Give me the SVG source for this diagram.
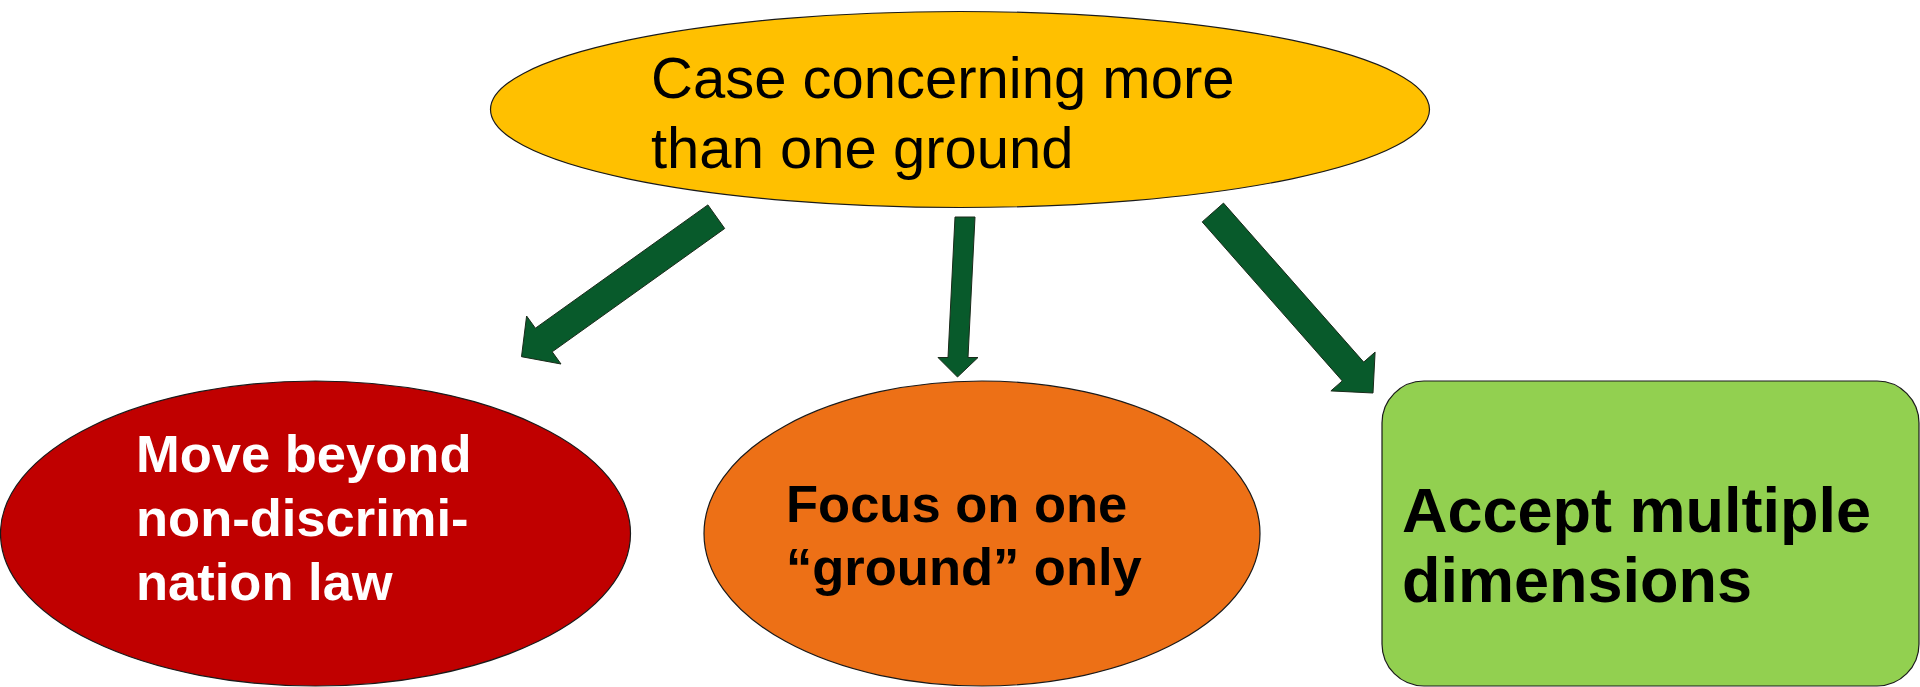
<svg xmlns="http://www.w3.org/2000/svg" width="1920" height="687" viewBox="0 0 1920 687">
<style>
.shape{stroke:#1a1a1a;stroke-width:1.2}
.arrow{fill:#085A2B;stroke:#1a2a1a;stroke-width:1}
.t{font-family:"Liberation Sans",Arial,sans-serif}
.b{font-weight:bold}
</style>
<rect width="1920" height="687" fill="#ffffff"/>
<g id="connectors">
<polygon class="arrow" points="724.7,228.5 552.2,351.8 561.0,364.0 521.5,356.7 526.6,316.0 535.4,328.2 707.9,204.9"/>
<polygon class="arrow" points="975,217 968,357.5 978,357.5 957.5,377 938,357.5 948,357.5 955,217"/>
<polygon class="arrow" points="1223.5,203.1 1363.7,362.1 1375.1,352.1 1373,393 1330.9,390.9 1342.3,380.9 1202.2,221.9"/>
</g>
<g id="node-top">
<ellipse class="shape" cx="960" cy="109.5" rx="469.5" ry="98" fill="#FFC000"/>
<text class="t" font-size="58" fill="#000" x="651" y="98">Case concerning more</text>
<text class="t" font-size="58" fill="#000" x="651" y="168">than one ground</text>
</g>
<g id="node-left">
<ellipse class="shape" cx="315.5" cy="533.5" rx="315" ry="152.5" fill="#C00000"/>
<text class="t b" font-size="52.5" fill="#fff" x="136" y="471.5">Move beyond</text>
<text class="t b" font-size="52.5" fill="#fff" x="136" y="535.5">non-discrimi-</text>
<text class="t b" font-size="52.5" fill="#fff" x="136" y="599.5">nation law</text>
</g>
<g id="node-middle">
<ellipse class="shape" cx="982" cy="533.5" rx="278" ry="152.5" fill="#ED7016"/>
<text class="t b" font-size="52.5" fill="#000" x="786" y="521.5">Focus on one</text>
<text class="t b" font-size="52.5" fill="#000" x="786" y="585">“ground” only</text>
</g>
<g id="node-right">
<rect class="shape" x="1382" y="381" width="537" height="305" rx="42" ry="42" fill="#92D050"/>
<text class="t b" font-size="63" fill="#000" x="1402" y="531.5">Accept multiple</text>
<text class="t b" font-size="63" fill="#000" x="1402" y="601.5">dimensions</text>
</g>
</svg>
